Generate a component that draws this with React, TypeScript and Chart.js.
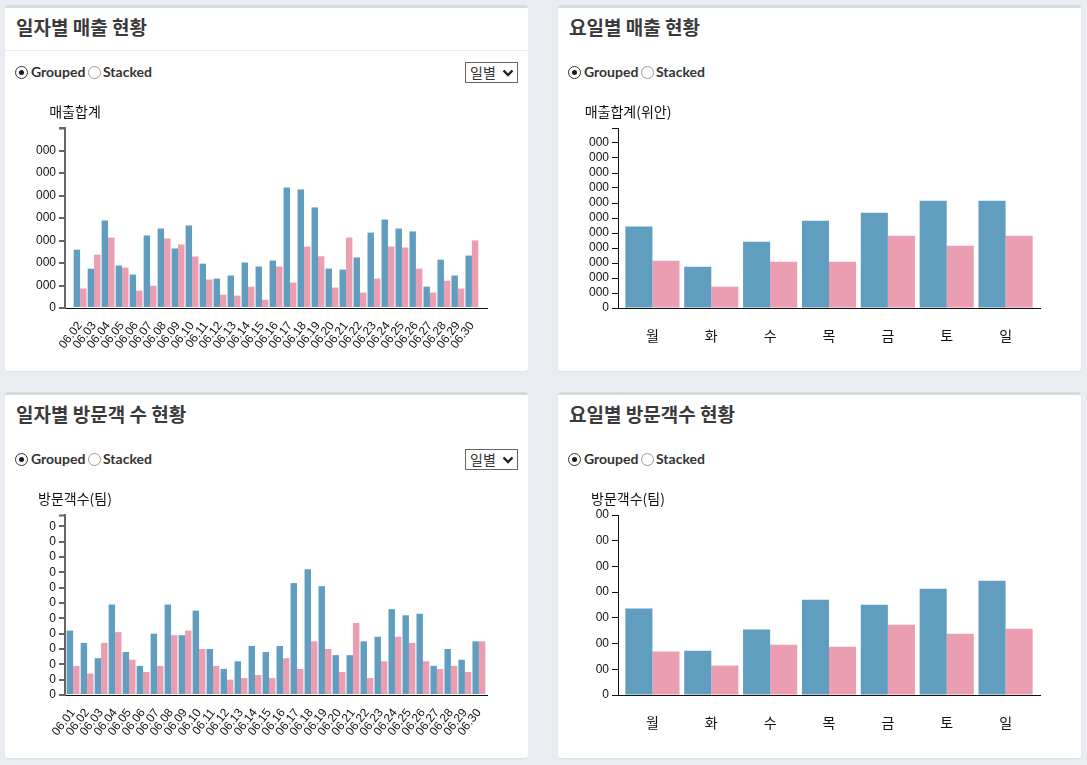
import React, { useEffect, useRef } from 'react';
import { Chart, registerables } from 'chart.js';

Chart.register(...registerables);

// ---------------- data ----------------
const salesDays = ['06.02','06.03','06.04','06.05','06.06','06.07','06.08','06.09','06.10','06.11','06.12','06.13','06.14','06.15','06.16','06.17','06.18','06.19','06.20','06.21','06.22','06.23','06.24','06.25','06.26','06.27','06.28','06.29','06.30'];
const salesDailyBlue = [2460,1660,3690,1790,1410,3060,3350,2510,3480,1870,1240,1370,1920,1750,2000,5080,5000,4240,1660,1620,2130,3180,3730,3350,3230,900,2040,1370,2210];
const salesDailyPink = [820,2250,2970,1700,730,940,2930,2680,2170,1200,560,520,900,350,1750,1070,2590,2180,860,2970,650,1240,2590,2550,1660,650,1150,820,2850];
const salesDailyTicks = ['0','000','000','000','000','000','000','000'];

const weekdays = ['월','화','수','목','금','토','일'];
const salesWeekBlue = [5240,2660,4270,5620,6140,6910,6910];
const salesWeekPink = [3050,1370,2980,2980,4660,4010,4660];
const salesWeekTicks = ['0','000','000','000','000','000','000','000','000','000','000','000'];

const visitorDays = ['06.01','06.02','06.03','06.04','06.05','06.06','06.07','06.08','06.09','06.10','06.11','06.12','06.13','06.14','06.15','06.16','06.17','06.18','06.19','06.20','06.21','06.22','06.23','06.24','06.25','06.26','06.27','06.28','06.29','06.30'];
const visitorDailyBlue = [42,34,24,59,28,19,40,59,39,55,30,17,22,32,28,32,73,82,71,26,26,35,38,56,52,53,19,30,23,35];
const visitorDailyPink = [19,14,34,41,23,15,19,39,42,30,19,10,11,13,11,24,17,35,30,15,47,11,22,38,34,22,17,19,15,35];
const visitorDailyTicks = ['0','0','0','0','0','0','0','0','0','0','0','0'];

const visitorWeekBlue = [338,173,256,373,353,416,447];
const visitorWeekPink = [170,115,197,189,275,240,259];
const visitorWeekTicks = ['0','00','00','00','00','00','00','00'];

// ---------------- style ----------------
const BLUE = '#619dbe';
const PINK = '#eb9db2';
const CJK = '"Noto Sans CJK KR", "Noto Sans", sans-serif';
const LATIN = '"Liberation Sans", Arial, sans-serif';

type Cfg = {
  labels: string[];
  a: number[];
  b: number[];
  step: number;
  yMax: number;
  tickLabels: string[];
  xPad: number;
  rotate: number;
  xFont: { size: number; family: string };
  xPadding: number;
  axisTitle: string;
  yColor: string;
  yWidth: number;
};

function BarChart({ cfg }: { cfg: Cfg }) {
  const ref = useRef<HTMLCanvasElement | null>(null);
  useEffect(() => {
    if (!ref.current) return;
    const n = cfg.labels.length;
    const axisTitlePlugin = {
      id: 'axisTitle',
      afterDraw(chart: any) {
        const { ctx, chartArea } = chart;
        ctx.save();
        ctx.font = `14px ${CJK}`;
        ctx.fillStyle = '#111';
        ctx.textAlign = 'center';
        ctx.textBaseline = 'middle';
        ctx.fillText(cfg.axisTitle, chartArea.left + 10, chartArea.top - 16);
        ctx.strokeStyle = cfg.yColor;
        ctx.lineWidth = cfg.yWidth;
        ctx.beginPath();
        ctx.moveTo(chartArea.left - 6, chartArea.top + 0.5);
        ctx.lineTo(chartArea.left, chartArea.top + 0.5);
        ctx.stroke();
        ctx.restore();
      },
    };
    const chart = new Chart(ref.current, {
      type: 'bar',
      data: {
        datasets: [
          {
            data: cfg.a.map((y, i) => ({ x: i, y })),
            backgroundColor: BLUE,
            categoryPercentage: 0.92,
            barPercentage: 1,
          },
          {
            data: cfg.b.map((y, i) => ({ x: i, y })),
            backgroundColor: PINK,
            categoryPercentage: 0.92,
            barPercentage: 1,
          },
        ],
      } as any,
      options: {
        animation: false,
        responsive: false,
        layout: { padding: { top: 33, left: 0, right: 41, bottom: 7 } },
        plugins: { legend: { display: false }, tooltip: { enabled: false }, title: { display: false } },
        scales: {
          x: {
            type: 'linear',
            min: -cfg.xPad,
            max: n - 1 + cfg.xPad,
            offset: false,
            grid: { display: false },
            border: { display: true, color: '#111', width: 1 },
            ticks: {
              autoSkip: false,
              minRotation: cfg.rotate,
              maxRotation: cfg.rotate,
              padding: cfg.xPadding,
              color: '#111',
              font: cfg.xFont,
              callback: (v: any) => cfg.labels[Math.round(Number(v))] ?? '',
            },
            afterBuildTicks: (s: any) => {
              s.ticks = cfg.labels.map((_, i) => ({ value: i }));
            },
            afterFit: (s: any) => {
              s.height = 50;
            },
          },
          y: {
            min: 0,
            max: cfg.yMax,
            grid: {
              drawOnChartArea: false,
              drawTicks: true,
              tickLength: 6,
              color: cfg.yColor,
              lineWidth: cfg.yWidth,
            },
            border: { display: true, color: cfg.yColor, width: cfg.yWidth },
            ticks: {
              stepSize: cfg.step,
              includeBounds: false,
              autoSkip: false,
              padding: 3,
              color: '#111',
              font: { size: 12, family: LATIN },
              callback: (v: any) => cfg.tickLabels[Math.round(Number(v) / cfg.step)] ?? '',
            },
            afterFit: (s: any) => {
              s.width = 60;
            },
          },
        },
      } as any,
      plugins: [axisTitlePlugin],
    });
    return () => chart.destroy();
  }, [cfg]);
  return (
    <canvas
      ref={ref}
      width={523}
      height={270}
      style={{ position: 'absolute', left: 0, top: 90, width: 523, height: 270 }}
    />
  );
}

function Radio({ checked, left }: { checked: boolean; left: number }) {
  return (
    <span
      style={{
        position: 'absolute',
        left,
        top: 61,
        width: 11,
        height: 11,
        borderRadius: '50%',
        border: checked ? '1px solid #333' : '1px solid #9a9a9a',
        background: '#fff',
      }}
    >
      {checked && (
        <span
          style={{
            position: 'absolute',
            left: 3,
            top: 3,
            width: 5,
            height: 5,
            borderRadius: '50%',
            background: '#1a1a1a',
          }}
        />
      )}
    </span>
  );
}

function Card({
  left,
  top,
  title,
  separator,
  select,
  cfg,
}: {
  left: number;
  top: number;
  title: string;
  separator?: boolean;
  select?: boolean;
  cfg: Cfg;
}) {
  const labelStyle: React.CSSProperties = {
    position: 'absolute',
    top: 57,
    fontFamily: 'Lato, "Open Sans", sans-serif',
    fontWeight: 700,
    fontSize: 14,
    lineHeight: '19px',
    color: '#333',
    whiteSpace: 'nowrap',
  };
  return (
    <div
      style={{
        position: 'absolute',
        left,
        top,
        width: 523,
        height: 366,
        background: '#fff',
        borderRadius: 3,
        overflow: 'hidden',
        boxShadow: '0 1px 2px rgba(0,0,0,0.05)',
      }}
    >
      <div style={{ position: 'absolute', left: 0, top: 0, width: 523, height: 3, background: '#d6dae0' }} />
      <div
        style={{
          position: 'absolute',
          left: 11,
          top: 9,
          fontFamily: CJK,
          fontWeight: 700,
          fontSize: 19,
          lineHeight: '26px',
          color: '#3a3a3a',
          whiteSpace: 'nowrap',
        }}
      >
        {title}
      </div>
      {separator && (
        <div style={{ position: 'absolute', left: 0, top: 45, width: 523, height: 1, background: '#eceef1' }} />
      )}
      <Radio checked={true} left={10} />
      <span style={{ ...labelStyle, left: 26 }}>Grouped</span>
      <Radio checked={false} left={83} />
      <span style={{ ...labelStyle, left: 98 }}>Stacked</span>
      {select && (
        <div
          style={{
            position: 'absolute',
            left: 460,
            top: 57,
            width: 53,
            height: 21,
            boxSizing: 'border-box',
            border: '1px solid #666',
            background: '#fff',
          }}
        >
          <span
            style={{
              position: 'absolute',
              left: 4,
              top: 0,
              fontFamily: CJK,
              fontSize: 14,
              lineHeight: '19px',
              color: '#333',
            }}
          >
            일별
          </span>
          <svg width="12" height="10" style={{ position: 'absolute', left: 36, top: 5 }}>
            <polyline points="1.5,2.5 6,7 10.5,2.5" fill="none" stroke="#222" strokeWidth="2.4" />
          </svg>
        </div>
      )}
      <BarChart cfg={cfg} />
    </div>
  );
}

const dailyFont = { size: 12, family: LATIN };
const weekFont = { size: 14, family: CJK };

const cfgSalesDaily: Cfg = {
  labels: salesDays,
  a: salesDailyBlue,
  b: salesDailyPink,
  step: 1000,
  yMax: 7590,
  tickLabels: salesDailyTicks,
  xPad: 1.08,
  rotate: 52,
  xFont: dailyFont,
  xPadding: 3,
  axisTitle: '매출합계',
  yColor: '#666',
  yWidth: 2,
};
const cfgSalesWeek: Cfg = {
  labels: weekdays,
  a: salesWeekBlue,
  b: salesWeekPink,
  step: 1000,
  yMax: 11590,
  tickLabels: salesWeekTicks,
  xPad: 0.585,
  rotate: 0,
  xFont: weekFont,
  xPadding: 11,
  axisTitle: '매출합계(위안)',
  yColor: '#111',
  yWidth: 1,
};
const cfgVisitorDaily: Cfg = {
  labels: visitorDays,
  a: visitorDailyBlue,
  b: visitorDailyPink,
  step: 10,
  yMax: 117.4,
  tickLabels: visitorDailyTicks,
  xPad: 0.58,
  rotate: 52,
  xFont: dailyFont,
  xPadding: 3,
  axisTitle: '방문객수(팀)',
  yColor: '#666',
  yWidth: 2,
};
const cfgVisitorWeek: Cfg = {
  labels: weekdays,
  a: visitorWeekBlue,
  b: visitorWeekPink,
  step: 100,
  yMax: 704,
  tickLabels: visitorWeekTicks,
  xPad: 0.585,
  rotate: 0,
  xFont: weekFont,
  xPadding: 11,
  axisTitle: '방문객수(팀)',
  yColor: '#111',
  yWidth: 1,
};

export default function App() {
  return (
    <div
      style={{
        position: 'fixed',
        left: 0,
        top: 0,
        width: 1087,
        height: 765,
        background: '#e9ecf1',
        overflow: 'hidden',
      }}
    >
      <Card left={5} top={5} title="일자별 매출 현황" separator select cfg={cfgSalesDaily} />
      <Card left={558} top={5} title="요일별 매출 현황" cfg={cfgSalesWeek} />
      <Card left={5} top={392} title="일자별 방문객 수 현황" select cfg={cfgVisitorDaily} />
      <Card left={558} top={392} title="요일별 방문객수 현황" cfg={cfgVisitorWeek} />
    </div>
  );
}
